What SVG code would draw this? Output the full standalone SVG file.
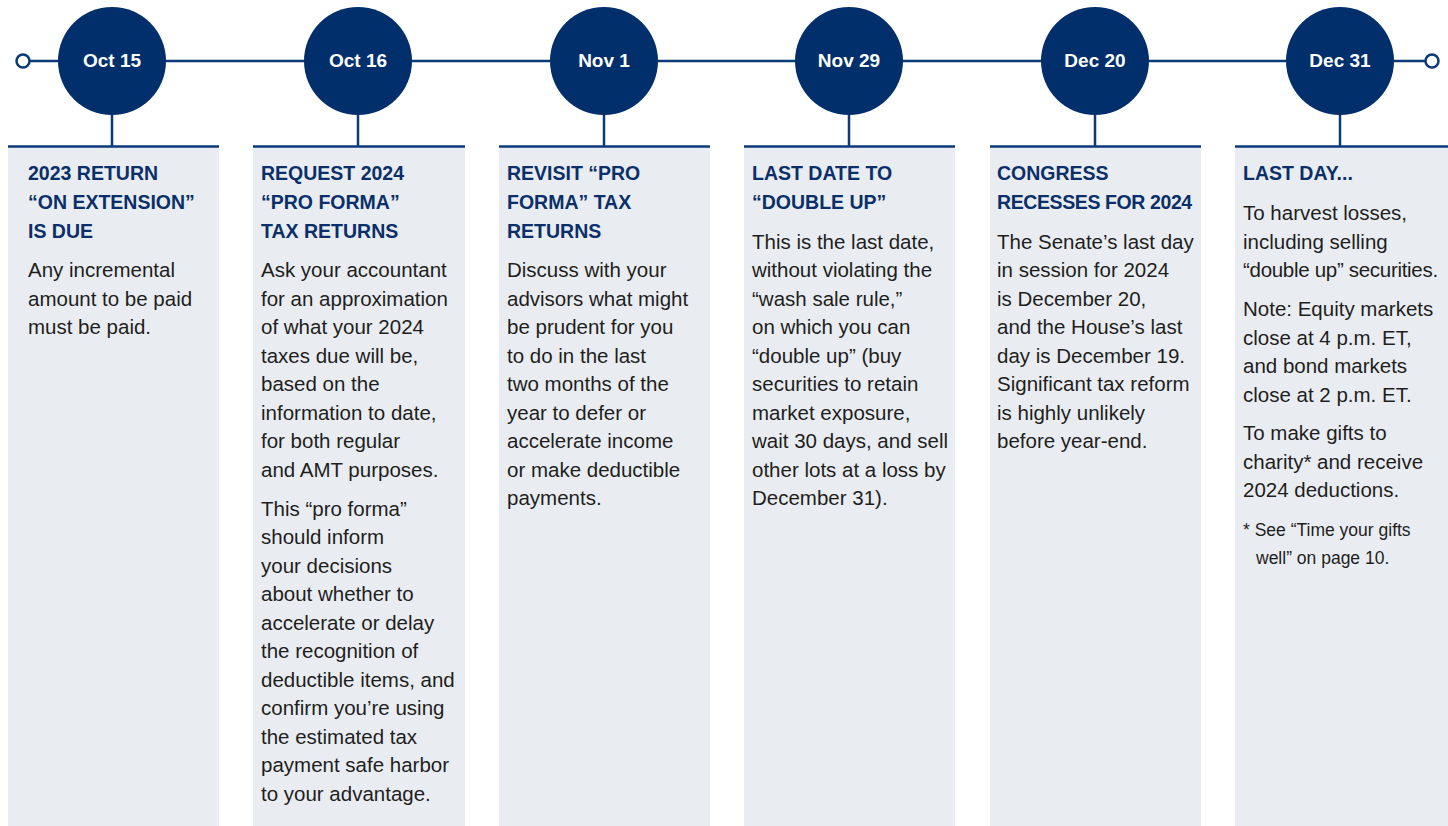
<svg xmlns="http://www.w3.org/2000/svg" width="1448" height="826" viewBox="0 0 1448 826">
<style>
.panel{fill:#e9edf1}
.top{stroke:#0a3a78;stroke-width:2.5}
.line{stroke:#0a3a78;stroke-width:2.5;fill:none}
.dot{fill:#fff;stroke:#0a3a78;stroke-width:2.5}
.circ{fill:#002f6c}
.date{font-family:"Liberation Sans",Arial,sans-serif;font-weight:bold;font-size:19px;fill:#fff;text-anchor:middle}
.title{font-family:"Liberation Sans",Arial,sans-serif;font-weight:bold;font-size:19.5px;fill:#0a2f6a}
.body{font-family:"Liberation Sans",Arial,sans-serif;font-size:20.5px;fill:#1e1e1e}
.note{font-family:"Liberation Sans",Arial,sans-serif;font-size:17.5px;fill:#1e1e1e}
</style>
<rect width="1448" height="826" fill="#fff"/>
<g id="connectors">
<line class="line" x1="30" y1="61" x2="1425" y2="61"/>
<circle class="dot" cx="23" cy="61" r="6.5"/>
<circle class="dot" cx="1432" cy="61" r="6.5"/>
<line class="line" x1="112" y1="110" x2="112" y2="146"/>
<line class="line" x1="358" y1="110" x2="358" y2="146"/>
<line class="line" x1="604" y1="110" x2="604" y2="146"/>
<line class="line" x1="849" y1="110" x2="849" y2="146"/>
<line class="line" x1="1095" y1="110" x2="1095" y2="146"/>
<line class="line" x1="1340" y1="110" x2="1340" y2="146"/>
</g>
<g id="node-oct15">
<circle class="circ" cx="112" cy="61" r="54"/>
<text class="date" x="112" y="67">Oct 15</text>
<rect class="panel" x="8" y="146" width="211" height="680"/>
<line class="top" x1="8" y1="146.5" x2="219" y2="146.5"/>
<text class="title" x="28"><tspan x="28" y="180">2023 RETURN</tspan><tspan x="28" y="209">“ON EXTENSION”</tspan><tspan x="28" y="238">IS DUE</tspan></text>
<text class="body"><tspan x="28" y="277">Any incremental</tspan><tspan x="28" y="305.5">amount to be paid</tspan><tspan x="28" y="334">must be paid.</tspan></text>
</g>
<g id="node-oct16">
<circle class="circ" cx="358" cy="61" r="54"/>
<text class="date" x="358" y="67">Oct 16</text>
<rect class="panel" x="253" y="146" width="212" height="680"/>
<line class="top" x1="253" y1="146.5" x2="465" y2="146.5"/>
<text class="title"><tspan x="261" y="180">REQUEST 2024</tspan><tspan x="261" y="209">“PRO FORMA”</tspan><tspan x="261" y="238">TAX RETURNS</tspan></text>
<text class="body"><tspan x="261" y="277">Ask your accountant</tspan><tspan x="261" y="305.5">for an approximation</tspan><tspan x="261" y="334">of what your 2024</tspan><tspan x="261" y="362.5">taxes due will be,</tspan><tspan x="261" y="391">based on the</tspan><tspan x="261" y="419.5">information to date,</tspan><tspan x="261" y="448">for both regular</tspan><tspan x="261" y="476.5">and AMT purposes.</tspan><tspan x="261" y="515.5">This “pro forma”</tspan><tspan x="261" y="544">should inform</tspan><tspan x="261" y="572.5">your decisions</tspan><tspan x="261" y="601">about whether to</tspan><tspan x="261" y="629.5">accelerate or delay</tspan><tspan x="261" y="658">the recognition of</tspan><tspan x="261" y="686.5">deductible items, and</tspan><tspan x="261" y="715">confirm you’re using</tspan><tspan x="261" y="743.5">the estimated tax</tspan><tspan x="261" y="772">payment safe harbor</tspan><tspan x="261" y="800.5">to your advantage.</tspan></text>
</g>
<g id="node-nov1">
<circle class="circ" cx="604" cy="61" r="54"/>
<text class="date" x="604" y="67">Nov 1</text>
<rect class="panel" x="499" y="146" width="211" height="680"/>
<line class="top" x1="499" y1="146.5" x2="710" y2="146.5"/>
<text class="title"><tspan x="507" y="180">REVISIT “PRO</tspan><tspan x="507" y="209">FORMA” TAX</tspan><tspan x="507" y="238">RETURNS</tspan></text>
<text class="body"><tspan x="507" y="277">Discuss with your</tspan><tspan x="507" y="305.5">advisors what might</tspan><tspan x="507" y="334">be prudent for you</tspan><tspan x="507" y="362.5">to do in the last</tspan><tspan x="507" y="391">two months of the</tspan><tspan x="507" y="419.5">year to defer or</tspan><tspan x="507" y="448">accelerate income</tspan><tspan x="507" y="476.5">or make deductible</tspan><tspan x="507" y="505">payments.</tspan></text>
</g>
<g id="node-nov29">
<circle class="circ" cx="849" cy="61" r="54"/>
<text class="date" x="849" y="67">Nov 29</text>
<rect class="panel" x="744" y="146" width="211" height="680"/>
<line class="top" x1="744" y1="146.5" x2="955" y2="146.5"/>
<text class="title"><tspan x="752" y="180">LAST DATE TO</tspan><tspan x="752" y="209">“DOUBLE UP”</tspan></text>
<text class="body"><tspan x="752" y="249">This is the last date,</tspan><tspan x="752" y="277">without violating the</tspan><tspan x="752" y="305.5">“wash sale rule,”</tspan><tspan x="752" y="334">on which you can</tspan><tspan x="752" y="362.5">“double up” (buy</tspan><tspan x="752" y="391">securities to retain</tspan><tspan x="752" y="419.5">market exposure,</tspan><tspan x="752" y="448">wait 30 days, and sell</tspan><tspan x="752" y="476.5">other lots at a loss by</tspan><tspan x="752" y="505">December 31).</tspan></text>
</g>
<g id="node-dec20">
<circle class="circ" cx="1095" cy="61" r="54"/>
<text class="date" x="1095" y="67">Dec 20</text>
<rect class="panel" x="990" y="146" width="211" height="680"/>
<line class="top" x1="990" y1="146.5" x2="1201" y2="146.5"/>
<text class="title"><tspan x="997" y="180">CONGRESS</tspan><tspan x="997" y="209" letter-spacing="-0.4">RECESSES FOR 2024</tspan></text>
<text class="body"><tspan x="997" y="249">The Senate’s last day</tspan><tspan x="997" y="277">in session for 2024</tspan><tspan x="997" y="305.5">is December 20,</tspan><tspan x="997" y="334">and the House’s last</tspan><tspan x="997" y="362.5">day is December 19.</tspan><tspan x="997" y="391">Significant tax reform</tspan><tspan x="997" y="419.5">is highly unlikely</tspan><tspan x="997" y="448">before year-end.</tspan></text>
</g>
<g id="node-dec31">
<circle class="circ" cx="1340" cy="61" r="54"/>
<text class="date" x="1340" y="67">Dec 31</text>
<rect class="panel" x="1235" y="146" width="213" height="680"/>
<line class="top" x1="1235" y1="146.5" x2="1448" y2="146.5"/>
<text class="title"><tspan x="1243" y="180">LAST DAY...</tspan></text>
<text class="body"><tspan x="1243" y="220">To harvest losses,</tspan><tspan x="1243" y="248.5">including selling</tspan><tspan x="1243" y="277" letter-spacing="-0.3">“double up” securities.</tspan><tspan x="1243" y="316">Note: Equity markets</tspan><tspan x="1243" y="344.5">close at 4 p.m. ET,</tspan><tspan x="1243" y="373">and bond markets</tspan><tspan x="1243" y="401.5">close at 2 p.m. ET.</tspan><tspan x="1243" y="440">To make gifts to</tspan><tspan x="1243" y="468.5">charity* and receive</tspan><tspan x="1243" y="497">2024 deductions.</tspan></text>
<text class="note"><tspan x="1243" y="536">* See “Time your gifts</tspan><tspan x="1256" y="563.5">well” on page 10.</tspan></text>
</g>
</svg>
